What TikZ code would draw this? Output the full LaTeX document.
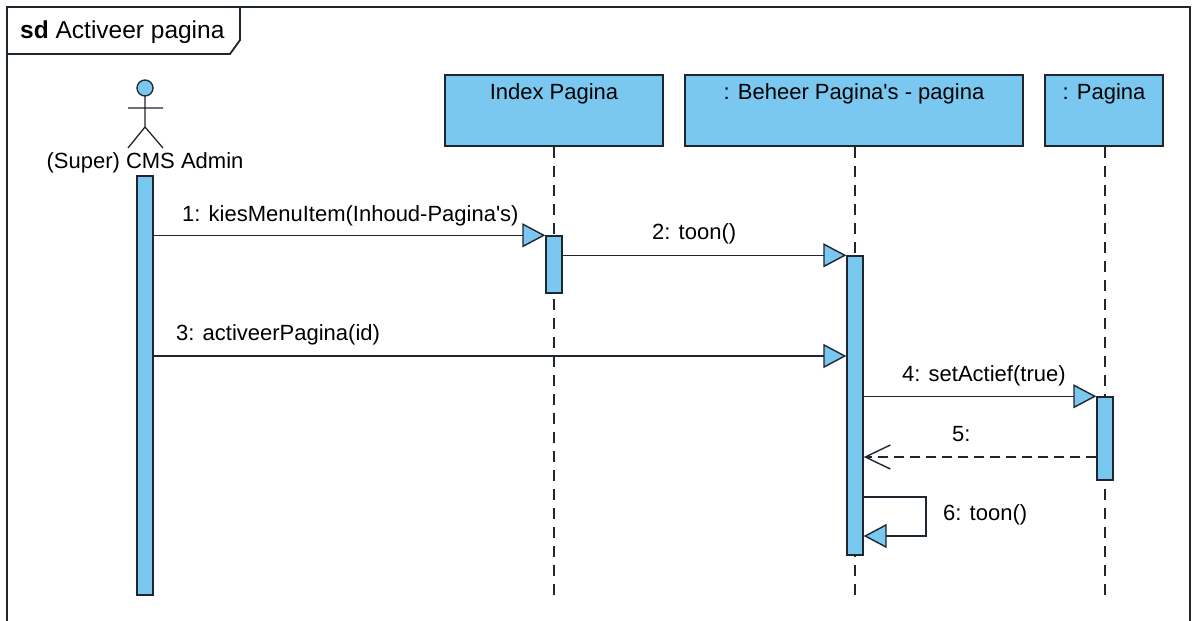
\documentclass[tikz,border=0pt]{standalone}
\usepackage{fontspec}
\setmainfont{Liberation Sans}
\usetikzlibrary{arrows.meta}
\definecolor{umlfill}{RGB}{122,200,240}
\definecolor{umlline}{RGB}{30,38,48}
\begin{document}
\begin{tikzpicture}[x=1pt,y=-1pt,
  every node/.style={font=\fontsize{22}{26}\selectfont, text=black},
  framestyle/.style={draw=umlline, line width=1.8pt},
  headbox/.style={draw=umlline, fill=umlfill, line width=1.6pt, minimum height=71pt, inner sep=0pt},
  actbar/.style={draw=umlline, fill=umlfill, line width=1.4pt, minimum width=16pt, inner sep=0pt},
  lifeline/.style={draw=umlline, line width=1.4pt, dash pattern=on 11pt off 8pt},
  msg/.style={draw=umlline, line width=1.4pt, -{Triangle[length=23pt,width=24pt,fill=umlfill]}},
  retmsg/.style={draw=umlline, line width=1.4pt, dash pattern=on 10pt off 6pt, -{Straight Barb[length=25pt,width=24pt]}},
  lbl/.style={anchor=base west, inner sep=0pt},
  lblc/.style={anchor=base, inner sep=0pt}]
\useasboundingbox (0,0) rectangle (1195,621);
\fill[white] (0,0) rectangle (1195,621);

% frame
\draw[framestyle] (7,621) -- (7,7) -- (1190,7) -- (1190,621);
\draw[framestyle] (7,54) -- (230,54) -- (240,40) -- (240,7);
\node[lbl, font=\fontsize{24.5}{28}\selectfont] (title) at (20,38) {\textbf{sd} Activeer pagina};

% actor
\draw[draw=umlline, fill=umlfill, line width=1.3pt] (145,88) circle (8);
\draw[draw=umlline, line width=1.3pt] (145,96) -- (145,127)
  (128,108) -- (163,108) (128,148) -- (145,127) -- (163,148);
\node[lblc] (actor) at (145,168) {(Super) CMS Admin};

% lifeline heads
\node[headbox, minimum width=218pt] (ip) at (554,110.5) {};
\node[lblc] (ipt) at (554,99) {Index Pagina};
\node[headbox, minimum width=338pt] (bh) at (854,110.5) {};
\node[lblc] (bht) at (854,99) {: Beheer Pagina\textquotesingle s - pagina};
\node[headbox, minimum width=118pt] (pg) at (1104,110.5) {};
\node[lblc] (pgt) at (1104,99) {: Pagina};

% lifeline ends
\coordinate (ipend) at (554,597);
\coordinate (bhend) at (855,597);
\coordinate (pgend) at (1105,597);
\draw[lifeline] (ip.south -| ipend) -- (ipend);
\draw[lifeline] (bh.south -| bhend) -- (bhend);
\draw[lifeline] (pg.south -| pgend) -- (pgend);

% activation bars
\node[actbar, minimum height=419pt] (adm) at (145,385.5) {};
\node[actbar, minimum height=57pt] (ipa) at (554,264.5) {};
\node[actbar, minimum height=299pt] (bha) at (855,405.5) {};
\node[actbar, minimum height=83pt] (pga) at (1105,438.5) {};

% message rows
\coordinate (m3) at (0,356);
\coordinate (m5) at (0,457);
\coordinate (m6a) at (0,497);
\coordinate (m6b) at (0,536);
\coordinate (m6r) at (926,0);

\draw[msg] (adm.east |- ipa.north) -- (ipa.north west);
\node[lbl] (l1) at (182,221) {1: kiesMenuItem(Inhoud-Pagina\textquotesingle s)};

\draw[msg] (ipa.east |- bha.north) -- (bha.north west);
\node[lbl] (l2) at (652,239) {2: toon()};

\draw[msg] (adm.east |- m3) -- (bha.west |- m3);
\node[lbl] (l3) at (176,340) {3: activeerPagina(id)};

\draw[msg] (bha.east |- pga.north) -- (pga.north west);
\node[lbl] (l4) at (902,381) {4: setActief(true)};

\draw[retmsg] (pga.west |- m5) -- (bha.east |- m5);
\node[lbl] (l5) at (952,441) {5:};

\draw[msg] (bha.east |- m6a) -- (m6r |- m6a) -- (m6r |- m6b) -- (bha.east |- m6b);
\node[lbl] (l6) at (943,520) {6: toon()};
\end{tikzpicture}
\end{document}
